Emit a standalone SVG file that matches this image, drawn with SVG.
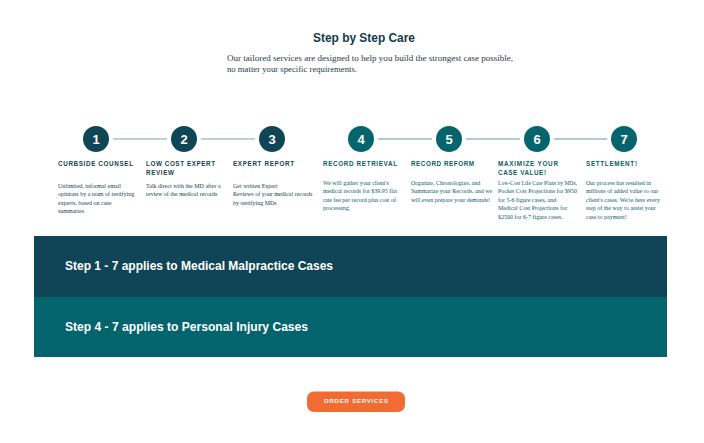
<svg xmlns="http://www.w3.org/2000/svg" width="704" height="443" viewBox="0 0 704 443">
<style>
.title{font-family:"Liberation Sans",Arial,sans-serif;font-weight:bold;font-size:12.5px;fill:#0f3b4c}
.sub{font-family:"Liberation Serif","Times New Roman",serif;font-size:8.6px;fill:#1d3a4a}
.num{font-family:"Liberation Sans",Arial,sans-serif;font-weight:bold;font-size:13px;fill:#ffffff;text-anchor:middle}
.lbl{font-family:"Liberation Sans",Arial,sans-serif;font-weight:bold;font-size:6.3px}
.desc{font-family:"Liberation Serif","Times New Roman",serif;font-size:6px}
.dk{fill:#173f4f}
.tl{fill:#0a5d66}
.band{font-family:"Liberation Sans",Arial,sans-serif;font-weight:bold;font-size:12px;fill:#ffffff}
.btn{font-family:"Liberation Sans",Arial,sans-serif;font-weight:bold;font-size:6px;fill:#ffffff}
.cdk{fill:#0f4656}
.ctl{fill:#06646d}
</style>
<rect width="704" height="443" fill="#ffffff"/>
<text class="title" x="364" y="42" text-anchor="middle" textLength="102" lengthAdjust="spacingAndGlyphs">Step by Step Care</text>
<text class="sub" x="227" y="61" textLength="286" lengthAdjust="spacingAndGlyphs">Our tailored services are designed to help you build the strongest case possible,</text>
<text class="sub" x="227" y="72" textLength="130" lengthAdjust="spacingAndGlyphs">no matter your specific requirements.</text>

<g id="connectors">
<line x1="113" y1="139" x2="167" y2="139" stroke="#7fa0a8" stroke-width="1.2"/>
<line x1="201" y1="139" x2="255" y2="139" stroke="#7fa0a8" stroke-width="1.2"/>
<line x1="378" y1="139" x2="432" y2="139" stroke="#5d9ca3" stroke-width="1.2"/>
<line x1="466" y1="139" x2="520" y2="139" stroke="#5d9ca3" stroke-width="1.2"/>
<line x1="554" y1="139" x2="607" y2="139" stroke="#5d9ca3" stroke-width="1.2"/>
</g>

<g id="step1">
<circle class="cdk" cx="96" cy="139" r="13"/>
<text class="num" x="96" y="144">1</text>
<text class="lbl dk" x="58" y="165.5" textLength="75" lengthAdjust="spacing">CURBSIDE COUNSEL</text>
<text class="desc dk" x="58"><tspan x="58" y="188">Unlimited, informal email</tspan><tspan x="58" y="196.3">opinions by a team of testifying</tspan><tspan x="58" y="204.6">experts, based on case</tspan><tspan x="58" y="212.9">summaries</tspan></text>
</g>
<g id="step2">
<circle class="cdk" cx="184" cy="139" r="13"/>
<text class="num" x="184" y="144">2</text>
<text class="lbl dk" x="146" y="165.5" textLength="69" lengthAdjust="spacing">LOW COST EXPERT</text>
<text class="lbl dk" x="146" y="174.5" textLength="28" lengthAdjust="spacing">REVIEW</text>
<text class="desc dk" x="146"><tspan x="146" y="188">Talk direct with the MD after a</tspan><tspan x="146" y="196.3">review of the medical records</tspan></text>
</g>
<g id="step3">
<circle class="cdk" cx="272" cy="139" r="13"/>
<text class="num" x="272" y="144">3</text>
<text class="lbl dk" x="233" y="165.5" textLength="61" lengthAdjust="spacing">EXPERT REPORT</text>
<text class="desc dk" x="233"><tspan x="233" y="188">Get written Expert</tspan><tspan x="233" y="196.3">Reviews of your medical records</tspan><tspan x="233" y="204.6">by testifying MDs</tspan></text>
</g>
<g id="step4">
<circle class="ctl" cx="361" cy="139" r="13"/>
<text class="num" x="361" y="144">4</text>
<text class="lbl tl" x="323" y="165.5" textLength="74" lengthAdjust="spacing">RECORD RETRIEVAL</text>
<text class="desc tl" x="323"><tspan x="323" y="184.5">We will gather your client's</tspan><tspan x="323" y="193.1">medical records for $39.95 flat</tspan><tspan x="323" y="201.7">rate fee per record plus cost of</tspan><tspan x="323" y="210.3">processing.</tspan></text>
</g>
<g id="step5">
<circle class="ctl" cx="449" cy="139" r="13"/>
<text class="num" x="449" y="144">5</text>
<text class="lbl tl" x="411" y="165.5" textLength="63" lengthAdjust="spacing">RECORD REFORM</text>
<text class="desc tl" x="411"><tspan x="411" y="184.5">Organize, Chronologize, and</tspan><tspan x="411" y="193.1">Summarize your Records, and we</tspan><tspan x="411" y="201.7">will even prepare your demands!</tspan></text>
</g>
<g id="step6">
<circle class="ctl" cx="537" cy="139" r="13"/>
<text class="num" x="537" y="144">6</text>
<text class="lbl tl" x="498" y="165.5" textLength="60" lengthAdjust="spacing">MAXIMIZE YOUR</text>
<text class="lbl tl" x="498" y="174.5" textLength="48" lengthAdjust="spacing">CASE VALUE!</text>
<text class="desc tl" x="498"><tspan x="498" y="184.5" textLength="79" lengthAdjust="spacingAndGlyphs">Low-Cost Life Care Plans by MDs,</tspan><tspan x="498" y="193.1" textLength="79" lengthAdjust="spacingAndGlyphs">Pocket Cost Projections for $950</tspan><tspan x="498" y="201.7">for 5-6 figure cases, and</tspan><tspan x="498" y="210.3">Medical Cost Projections for</tspan><tspan x="498" y="218.9">$2500 for 6-7 figure cases.</tspan></text>
</g>
<g id="step7">
<circle class="ctl" cx="624" cy="139" r="13"/>
<text class="num" x="624" y="144">7</text>
<text class="lbl tl" x="586" y="165.5" textLength="51" lengthAdjust="spacing">SETTLEMENT!</text>
<text class="desc tl" x="586"><tspan x="586" y="184.5">Our process has resulted in</tspan><tspan x="586" y="193.1">millions of added value to our</tspan><tspan x="586" y="201.7">client's cases. We're here every</tspan><tspan x="586" y="210.3">step of the way to assist your</tspan><tspan x="586" y="218.9">case to payment!</tspan></text>
</g>

<g id="band1">
<rect x="34" y="236" width="633" height="61" fill="#0f4556"/>
<text class="band" x="65" y="270" textLength="268" lengthAdjust="spacingAndGlyphs">Step 1 - 7 applies to Medical Malpractice Cases</text>
</g>
<g id="band2">
<rect x="34" y="297" width="633" height="60" fill="#03646e"/>
<text class="band" x="65" y="330.5" textLength="243" lengthAdjust="spacingAndGlyphs">Step 4 - 7 applies to Personal Injury Cases</text>
</g>

<g id="button">
<rect x="307" y="391.5" width="98" height="20.5" rx="7" fill="#f06c33"/>
<text class="btn" x="356" y="403.3" text-anchor="middle" textLength="64" lengthAdjust="spacing">ORDER SERVICES</text>
</g>
</svg>
